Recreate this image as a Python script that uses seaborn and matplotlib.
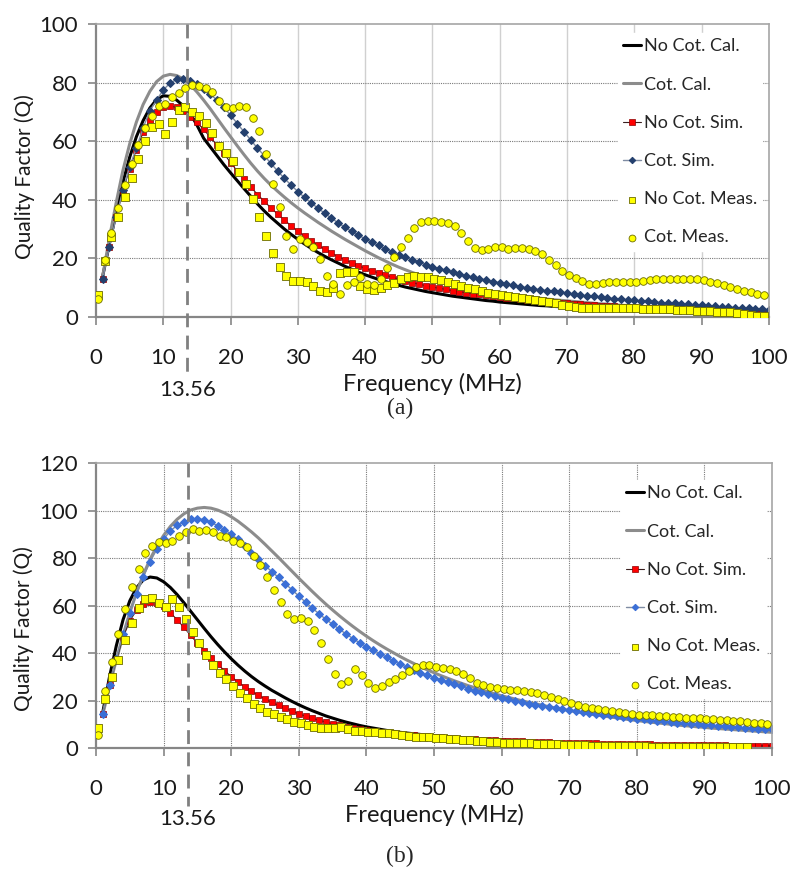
import numpy as np
import matplotlib.pyplot as plt
import seaborn as sns

sns.set_theme(style="white")
plt.rcParams["font.family"] = ["Lato", "DejaVu Sans"]

# ---------------- data ----------------
freq = np.arange(1, 101)            # simulated / calculated grid (MHz)
freq_meas = np.arange(100) + 0.3    # measurement grid (MHz)
labels = ["No Cot. Cal.", "Cot. Cal.", "No Cot. Sim.", "Cot. Sim.",
          "No Cot. Meas.", "Cot. Meas."]

# (a)
a_nocot_cal = [14, 25, 36, 46, 54.5, 61.5, 67, 71.3, 74.2, 75.5, 75.3, 74, 72, 69.5, 65.5, 61, 58, 55, 52, 49.2,
               46.5, 43.8, 41.2, 38.6, 36.2, 34, 32, 30, 28.2, 26.5, 24.9, 23.4, 22, 20.7, 19.5, 18.4, 17.3, 16.3, 15.3, 14.4,
               13.6, 12.8, 12.1, 11.4, 10.8, 10.2, 9.7, 9.2, 8.7, 8.3, 7.9, 7.5, 7.1, 6.8, 6.5, 6.2, 5.9, 5.6, 5.4, 5.1,
               4.9, 4.7, 4.5, 4.3, 4.1, 3.9, 3.8, 3.6, 3.5, 3.3, 3.2, 3.1, 2.9, 2.8, 2.7, 2.6, 2.5, 2.4, 2.3, 2.2,
               2.1, 2, 1.9, 1.8, 1.7, 1.6, 1.6, 1.5, 1.4, 1.3, 1.3, 1.2, 1.1, 1.1, 1, 0.9, 0.9, 0.8, 0.8, 0.7]
a_cot_cal = [14, 27, 39, 50, 59, 66.5, 72.5, 77, 80.3, 82.2, 82.8, 82.4, 81.2, 79.3, 76.8, 74, 71, 67.8, 64.6, 61.5,
             58.4, 55.4, 52.5, 49.8, 47.3, 45, 42.9, 40.9, 39, 37.2, 35.5, 33.9, 32.3, 30.8, 29.3, 27.9, 26.5, 25.2, 23.9, 22.6,
             21.4, 20.2, 19.1, 18, 17, 16.1, 15.2, 14.4, 13.6, 12.9, 12.3, 11.7, 11.1, 10.6, 10.1, 9.7, 9.3, 8.9, 8.5, 8.1,
             7.8, 7.5, 7.2, 6.9, 6.6, 6.4, 6.1, 5.9, 5.7, 5.5, 5.3, 5.1, 4.9, 4.7, 4.5, 4.4, 4.2, 4, 3.9, 3.7,
             3.6, 3.5, 3.3, 3.2, 3.1, 3, 2.9, 2.7, 2.6, 2.5, 2.4, 2.3, 2.2, 2.1, 2, 1.9, 1.8, 1.7, 1.6, 1.5]
a_nocot_sim = [13, 24, 34, 43, 50.5, 57, 63, 67.2, 70, 71.5, 72, 71.5, 70.2, 68.4, 66.4, 64, 61.3, 58.6, 55.8, 52.7,
               49.8, 47, 44.4, 41.8, 39.5, 37.2, 35.1, 33.1, 31.1, 29.3, 27.6, 26, 24.5, 23.1, 21.8, 20.6, 19.5, 18.5, 17.5, 16.6,
               15.8, 15, 14.3, 13.6, 12.9, 12.3, 11.7, 11.2, 10.7, 10.2, 9.8, 9.4, 9, 8.6, 8.3, 8, 7.7, 7.4, 7.1, 6.9,
               6.6, 6.4, 6.1, 5.9, 5.7, 5.5, 5.3, 5.1, 4.9, 4.7, 4.5, 4.4, 4.2, 4.1, 3.9, 3.8, 3.7, 3.5, 3.4, 3.3,
               3.2, 3.1, 3, 2.9, 2.8, 2.7, 2.6, 2.5, 2.4, 2.3, 2.2, 2.1, 2, 1.9, 1.8, 1.7, 1.6, 1.5, 1.4, 1.3]
a_cot_sim = [13, 24, 34, 43.3, 51.3, 57.6, 64.5, 70.4, 74, 77.5, 79.8, 81.1, 81.3, 80.6, 79.4, 77.8, 76, 74, 71.5, 68.9,
             66, 63.2, 60.4, 57.6, 55.1, 52.4, 49.8, 47.3, 45, 42.8, 40.8, 38.9, 37.1, 35.4, 33.7, 32.1, 30.6, 29.2, 27.9, 26.7,
             25.5, 24.4, 23.3, 22.3, 21.3, 20.4, 19.5, 18.7, 17.9, 17.2, 16.5, 15.9, 15.3, 14.7, 14.1, 13.6, 13.1, 12.6, 12.1, 11.7,
             11.2, 10.8, 10.4, 10, 9.6, 9.3, 9, 8.7, 8.4, 8.1, 7.8, 7.5, 7.2, 7, 6.7, 6.5, 6.3, 6.1, 5.9, 5.7,
             5.5, 5.3, 5.1, 4.9, 4.7, 4.6, 4.4, 4.3, 4.1, 4, 3.8, 3.7, 3.5, 3.4, 3.2, 3.1, 3, 2.8, 2.7, 2.5]
a_nocot_meas = [7.5, 19, 27.2, 34, 41, 47.5, 53.8, 60, 64.7, 65.9, 62.3, 66.6, 70.6, 71.5, 70.1, 68.5, 66.3, 62.9, 58.5, 55.9,
                53.2, 49.6, 45.3, 40.2, 34.2, 27.6, 21.7, 17.2, 14.1, 12.4, 12.4, 12, 10.7, 9, 8.4, 9.8, 15.1, 15.4, 15.4, 10.6,
                9.7, 9.2, 9.8, 10.8, 11.7, 12.9, 13.5, 14, 13.8, 13.6, 12.9, 12.5, 11.8, 11.2, 10.5, 10, 9.4, 8.9, 8.3, 7.9,
                7.5, 7.2, 6.9, 6.5, 6.1, 5.7, 5.3, 5, 4.6, 4.1, 3.6, 3.3, 3, 2.9, 3, 3, 3, 3, 3, 2.9,
                2.9, 2.8, 2.8, 2.7, 2.7, 2.6, 2.5, 2.4, 2.3, 2.2, 2, 1.9, 1.8, 1.7, 1.6, 1.4, 1.1, 0.8, 0.5, 0.4]
a_cot_meas = [6, 19.5, 28.8, 37.1, 45, 52.2, 58.7, 64.6, 68.6, 72, 72.8, 75.2, 76.3, 78, 79.2, 78.8, 78, 76.9, 73.7, 71.8,
              71.4, 72, 71.8, 68, 63.5, 55.6, 45.3, 37.4, 27.6, 23.1, 26.5, 25.7, 24, 19.8, 14, 11.3, 7.7, 10.9, 12, 13.8,
              11.4, 10.8, 13, 16.6, 20.5, 24, 27, 30.2, 32.5, 32.7, 32.7, 32.5, 32.2, 31, 28.6, 25.8, 23.4, 22.7, 23.3, 24,
              23.8, 23.3, 23.4, 23.4, 23.1, 22.5, 21.5, 19.5, 17.6, 15.8, 14.3, 13.2, 12.2, 11.3, 11.2, 11.6, 11.8, 11.8, 11.9, 12,
              12.1, 12.4, 12.7, 12.8, 12.9, 12.9, 12.9, 12.9, 12.9, 12.8, 12.6, 12.1, 11.5, 10.8, 10.2, 9.5, 8.8, 8.4, 8, 7.4]

# (b)
b_nocot_cal = [15, 30, 43, 54, 62, 67.5, 70.8, 72, 71.6, 70, 67.6, 64.6, 61.2, 57.6, 54, 50.4, 46.9, 43.6, 40.5, 37.6,
               34.9, 32.4, 30.1, 28, 26.1, 24.3, 22.7, 21.1, 19.6, 18.2, 16.9, 15.7, 14.6, 13.5, 12.6, 11.7, 10.9, 10.2, 9.5, 8.9,
               8.4, 7.9, 7.4, 7, 6.6, 6.3, 6, 5.7, 5.4, 5.2, 4.9, 4.7, 4.5, 4.3, 4.1, 3.9, 3.7, 3.6, 3.4, 3.3,
               3.1, 3, 2.9, 2.8, 2.7, 2.6, 2.5, 2.4, 2.3, 2.2, 2.1, 2, 1.9, 1.9, 1.8, 1.7, 1.7, 1.6, 1.5, 1.5,
               1.4, 1.4, 1.3, 1.3, 1.2, 1.2, 1.1, 1.1, 1.1, 1, 1, 0.9, 0.9, 0.9, 0.8, 0.8, 0.8, 0.7, 0.7, 0.7]
b_cot_cal = [14, 26, 37, 47.5, 57, 65.5, 73, 79.5, 85, 89.5, 93.3, 96.3, 98.6, 100.2, 101, 101.3, 101, 100.2, 99, 97.4,
             95.5, 93.3, 91, 88.5, 85.8, 83, 80.2, 77.3, 74.4, 71.5, 68.7, 65.9, 63.2, 60.6, 58.1, 55.7, 53.4, 51.2, 49.1, 47.1,
             45.2, 43.4, 41.7, 40.1, 38.5, 37, 35.6, 34.2, 32.9, 31.7, 30.5, 29.4, 28.3, 27.3, 26.3, 25.4, 24.5, 23.6, 22.8, 22,
             21.3, 20.6, 19.9, 19.2, 18.6, 18, 17.4, 16.8, 16.3, 15.8, 15.3, 14.8, 14.3, 13.9, 13.5, 13.1, 12.7, 12.3, 11.9, 11.6,
             11.2, 10.9, 10.6, 10.3, 10, 9.7, 9.4, 9.2, 8.9, 8.7, 8.4, 8.2, 8, 7.8, 7.6, 7.4, 7.2, 7, 6.8, 6.6]
b_nocot_sim = [14.3, 26.5, 37, 46.5, 53.5, 58, 60.6, 61.6, 61.2, 59.6, 57, 54, 50.8, 47.4, 44.1, 41, 38.1, 35.3, 32.6, 30.1,
               27.8, 25.8, 23.9, 22.2, 20.7, 19.2, 17.9, 16.7, 15.5, 14.4, 13.4, 12.5, 11.7, 10.9, 10.2, 9.6, 9, 8.5, 8, 7.6,
               7.2, 6.8, 6.5, 6.2, 5.9, 5.6, 5.4, 5.1, 4.9, 4.7, 4.5, 4.3, 4.1, 4, 3.8, 3.7, 3.5, 3.4, 3.3, 3.1,
               3, 2.9, 2.8, 2.7, 2.6, 2.5, 2.4, 2.3, 2.3, 2.2, 2.1, 2, 2, 1.9, 1.8, 1.8, 1.7, 1.7, 1.6, 1.6,
               1.5, 1.5, 1.4, 1.4, 1.3, 1.3, 1.3, 1.2, 1.2, 1.2, 1.1, 1.1, 1.1, 1, 1, 1, 1, 0.9, 0.9, 0.9]
b_cot_sim = [14.5, 26.5, 37.5, 48, 57, 65, 72, 78.4, 83.7, 87.9, 91.5, 93.7, 95.3, 96.3, 96.6, 96.1, 95, 93.6, 92, 90,
             87.8, 85.2, 82.3, 79.4, 76.8, 74.3, 71.8, 69.2, 66.6, 64, 61.4, 58.9, 56.5, 54.2, 52.1, 50, 48, 46.1, 44.3, 42.7,
             41.2, 39.7, 38.2, 36.7, 35.3, 34, 32.8, 31.7, 30.6, 29.6, 28.7, 27.8, 27, 26.2, 25, 24.2, 23.4, 22.6, 21.9, 21.2,
             20.5, 19.8, 19.2, 18.6, 18, 17.5, 17.1, 16.7, 16.3, 15.9, 15.5, 15.1, 14.8, 14.4, 14.1, 13.7, 13.3, 13, 12.7, 12.4,
             12.1, 11.8, 11.5, 11.2, 10.9, 10.7, 10.4, 10.2, 9.9, 9.7, 9.5, 9.3, 9.1, 8.9, 8.7, 8.5, 8.4, 8.2, 8, 7.9]
b_nocot_meas = [8.5, 20.5, 30, 37, 45.5, 52.8, 58.8, 62.6, 63, 60.9, 59.5, 62.6, 59.5, 54.2, 49, 44.1, 39.2, 34.9, 31.7, 28.9,
                26.1, 23.3, 20.9, 18.5, 16.7, 15.3, 14.3, 13.2, 12.1, 11, 10.4, 9.7, 9, 8.6, 8.5, 8.6, 8.7, 8, 7.2, 7,
                6.8, 6.6, 6.5, 6.3, 6, 5.6, 5.1, 4.8, 4.6, 4.5, 4.4, 4.2, 4, 3.8, 3.5, 3.2, 3, 2.8, 2.6, 2.4,
                2.2, 2.1, 2, 1.9, 1.9, 1.8, 1.7, 1.6, 1.5, 1.4, 1.3, 1.2, 1.1, 1, 0.9, 0.8, 0.8, 0.7, 0.7, 0.7,
                0.7, 0.7, 0.6, 0.6, 0.6, 0.6, 0.5, 0.5, 0.5, 0.5, 0.5, 0.4, 0.4, 0.4, 0.3, 0.3, 0.3]
b_cot_meas = [5.5, 24, 36.3, 47.9, 58.5, 67.9, 75.2, 82, 85, 86.6, 86.4, 87.3, 89.3, 91.1, 92.1, 91.5, 91.8, 91.1, 89.4, 88.7,
              87.3, 86.4, 84.5, 80.8, 77.2, 72.1, 66.5, 61.3, 56.4, 54.3, 54.6, 53.5, 49.8, 44.1, 37.5, 31.2, 27, 28.3, 33.3, 30.9,
              27.5, 25.4, 26.1, 27.7, 29, 30.8, 32.5, 34.1, 34.9, 34.9, 34.1, 33.7, 33.3, 32.5, 31.3, 29.3, 27.5, 26.5, 25.5, 25.1,
              24.7, 24.4, 24.4, 24.1, 23.7, 23.2, 22.3, 21.6, 20.6, 19.8, 19.1, 18.1, 17.4, 16.7, 16.3, 16, 15.6, 15.3, 14.8, 14.4,
              14.1, 13.9, 13.7, 13.5, 13.3, 13.1, 13, 12.8, 12.7, 12.5, 12.3, 12.1, 11.9, 11.7, 11.4, 11.2, 10.9, 10.6, 10.4, 10.1]

F_MARK = 13.56

# ---------------- plot ----------------
fig = plt.figure(figsize=(8, 8.72), dpi=100)
ax_a = fig.add_axes([0.12, 0.6365, 0.841, 0.336])
ax_b = fig.add_axes([0.12, 0.1422, 0.845, 0.3268])


def draw_panel(ax, data, ymax, sim_color, vgrid_style, leg_top, ylab_pos):
    nocot_cal, cot_cal, nocot_sim, cot_sim, nocot_meas, cot_meas = data

    sns.lineplot(x=freq, y=nocot_cal, ax=ax, color="black", linewidth=2.2, label=labels[0])
    sns.lineplot(x=freq, y=cot_cal, ax=ax, color="#8c8c8c", linewidth=2.2, label=labels[1])
    sns.lineplot(x=freq, y=nocot_sim, ax=ax, color="#3a2020", linewidth=0.8, label=labels[2],
                 marker="s", markersize=5, markerfacecolor="#ff0000", markeredgecolor="#8b0000",
                 markeredgewidth=0.5)
    sns.lineplot(x=freq, y=cot_sim, ax=ax, color="#7f8ca3", linewidth=1.0, label=labels[3],
                 marker="D", markersize=3.6, markerfacecolor=sim_color, markeredgecolor=sim_color)
    sns.scatterplot(x=freq_meas[:len(nocot_meas)], y=nocot_meas, ax=ax, marker="s", s=30,
                    color="#ffff00", edgecolor="#6b6b00", linewidth=0.6, label=labels[4], zorder=4)
    sns.scatterplot(x=freq_meas[:len(cot_meas)], y=cot_meas, ax=ax, marker="o", s=30,
                    color="#ffff00", edgecolor="#6b6b00", linewidth=0.6, label=labels[5], zorder=4)

    ax.set_xlim(0, 100)
    ax.set_ylim(0, ymax)
    ax.set_xticks(range(0, 101, 10))
    ax.set_yticks(range(0, ymax + 1, 20))

    # gridlines (Excel-like)
    for x in range(10, 100, 10):
        ax.axvline(x, zorder=0, **vgrid_style)
    for y in range(20, ymax, 20):
        ax.axhline(y, color="#7a7a7a", linewidth=0.8, linestyle=(0, (1, 1)), zorder=0)

    for side in ["top", "right"]:
        ax.spines[side].set_color("#a6a6a6")
        ax.spines[side].set_linewidth(1.2)
    for side in ["left", "bottom"]:
        ax.spines[side].set_color("#868686")
        ax.spines[side].set_linewidth(1.6)
    ax.tick_params(axis="both", which="both", direction="out", length=6, width=1.2,
                   color="#868686", labelsize=16, left=True, bottom=True, labelcolor="#1a1a1a")
    ax.tick_params(axis="x", pad=16)
    ax.tick_params(axis="y", pad=7)

    # dashed marker at 13.56 MHz, extending below the axis
    ax.plot([F_MARK, F_MARK], [ymax, -0.205 * ymax], color="#808080", linewidth=2,
            linestyle=(0, (5, 3)), clip_on=False, zorder=5)
    ax.text(F_MARK, -0.25 * ymax, "13.56", ha="center", va="center", fontsize=16, color="#1a1a1a")

    ax.set_xlabel("Frequency (MHz)", fontsize=17, labelpad=4, color="#1a1a1a")
    ax.set_ylabel("Quality Factor (Q)", fontsize=15, color="#1a1a1a")
    ax.yaxis.set_label_coords(*ylab_pos)

    leg = ax.legend(loc="upper right", bbox_to_anchor=(1.004, leg_top), fontsize=13,
                    frameon=True, facecolor="white", edgecolor="white", framealpha=1,
                    fancybox=False, labelspacing=1.23, handlelength=1.0,
                    handletextpad=0.15, borderpad=0.3, markerscale=0.9)
    leg.set_zorder(6)


grid_a = dict(color="#d0d0d0", linewidth=1.0, linestyle="-")
grid_b = dict(color="#7a7a7a", linewidth=0.8, linestyle=(0, (1, 1)))

draw_panel(ax_a, [a_nocot_cal, a_cot_cal, a_nocot_sim, a_cot_sim, a_nocot_meas, a_cot_meas],
           100, "#24406e", grid_a, 1.0, (-0.09, 0.478))
draw_panel(ax_b, [b_nocot_cal, b_cot_cal, b_nocot_sim, b_cot_sim, b_nocot_meas, b_cot_meas],
           120, "#3b6fd6", grid_b, 0.972, (-0.092, 0.42))

fig.text(0.5, 1 - 408 / 872, "(a)", ha="center", va="center", fontsize=17, family="Liberation Serif")
fig.text(0.5, 1 - 856 / 872, "(b)", ha="center", va="center", fontsize=17, family="Liberation Serif")

plt.savefig("out.png", dpi=100)
